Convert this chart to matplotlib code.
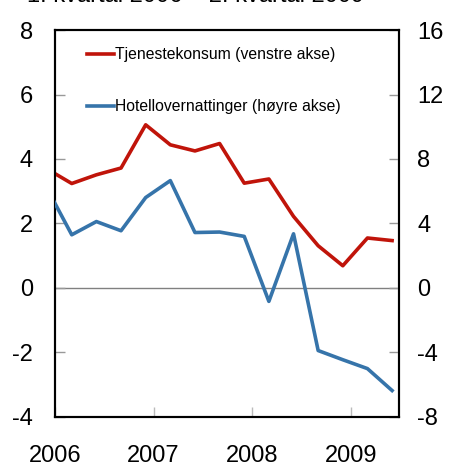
import numpy as np
import matplotlib
matplotlib.use("Agg")
import matplotlib.pyplot as plt

plt.rcParams['font.family'] = ['Liberation Sans', 'DejaVu Sans']
plt.rcParams['axes.unicode_minus'] = False

# kvartalsvise tidspunkt (forste punkt ligger like for aksens start)
quarters = np.arange(15) * 0.25 + 2005.92

# Tjenestekonsum, venstre akse
tjeneste = [3.69, 3.24, 3.51, 3.72, 5.06, 4.44, 4.25, 4.48, 3.25, 3.38,
            2.22, 1.31, 0.69, 1.55, 1.47]

# Hotellovernattinger, hoyre akse
hotell = [6.16, 3.30, 4.12, 3.55, 5.61, 6.66, 3.44, 3.47, 3.20, -0.83,
          3.36, -3.88, -4.45, -5.00, -6.36]

years = [2006, 2007, 2008, 2009]
red = '#c0140a'
blue = '#3674aa'

fig = plt.figure(figsize=(4.49, 4.66), dpi=100)
ax = fig.add_axes([0.1225, 0.1052, 0.7661, 0.8304])
ax2 = ax.twinx()

ax.axhline(0, color='#808080', linewidth=1.0, zorder=1)
l1, = ax.plot(quarters, tjeneste, color=red, linewidth=2.6, zorder=3,
              label='Tjenestekonsum (venstre akse)')
l2, = ax2.plot(quarters, hotell, color=blue, linewidth=2.6, zorder=3,
               label='Hotellovernattinger (høyre akse)')

ax.set_xlim(2006, 2009.49)
ax.set_ylim(-4, 8)
ax2.set_ylim(-8, 16)
ax.set_yticks(np.arange(-4, 9, 2))
ax2.set_yticks(np.arange(-8, 17, 4))
ax.set_xticks(years)
ax.set_xticklabels([str(y) for y in years])

ax.tick_params(axis='y', direction='in', length=7, width=1, color='#999999',
               labelsize=17, pad=16)
ax2.tick_params(axis='y', direction='in', length=7, width=1, color='#999999',
                labelsize=17, pad=13)
ax.tick_params(axis='x', direction='in', length=7, width=1, color='#bbbbbb',
               labelsize=17, pad=20)

for a in (ax, ax2):
    for s in a.spines.values():
        s.set_linewidth(1.5)
        s.set_color('black')

leg = ax.legend(handles=[l1, l2], loc='upper left', bbox_to_anchor=(0.093, 0.955),
                frameon=False, fontsize=11.3, handlelength=1.75, handletextpad=0.05,
                labelspacing=2.35, borderpad=0, borderaxespad=0)

fig.text(0.06, 0.995, '1. kvartal 2006 – 2. kvartal 2009', fontsize=17,
         va='baseline', ha='left')

fig.savefig('out.png', dpi=100)
